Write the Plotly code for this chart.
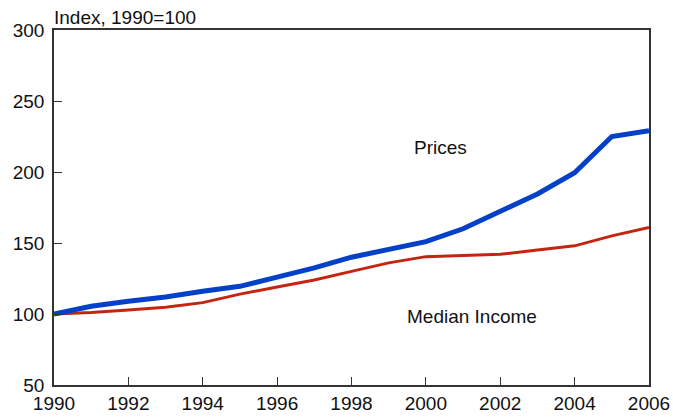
import plotly.graph_objects as go

years = list(range(1990, 2007))
prices = [100, 105.5, 109, 112, 116, 119.5, 126, 132.5, 140, 145.5, 151, 160, 172, 184.5, 199.5, 225, 229]
median_income = [100, 101, 102.8, 104.7, 108, 114, 119, 124, 130, 136, 140.4, 141, 142, 145, 148, 155, 161]
x_ticks = list(range(1990, 2007, 2))
y_ticks = [50, 100, 150, 200, 250, 300]

FONT = "Liberation Sans, Arial, sans-serif"
FS = 19

fig = go.Figure()
fig.add_trace(go.Scatter(x=years, y=median_income, mode="lines",
                         line=dict(color="#c42410", width=3), name="Median Income"))
fig.add_trace(go.Scatter(x=years, y=prices, mode="lines",
                         line=dict(color="#0440c8", width=5), name="Prices"))

fig.add_annotation(x=2000.4, y=217, text="Prices", showarrow=False,
                   font=dict(family=FONT, size=FS, color="#111"))
fig.add_annotation(x=2001.25, y=98.5, text="Median Income", showarrow=False,
                   font=dict(family=FONT, size=FS, color="#111"))
fig.add_annotation(x=0, xref="paper", xanchor="left", xshift=-2, y=1.0, yref="paper",
                   yanchor="bottom", yshift=0, text="Index, 1990=100", showarrow=False,
                   font=dict(family=FONT, size=FS, color="#111"))

fig.update_layout(
    width=673, height=417,
    margin=dict(l=54, r=24, t=30, b=32, autoexpand=False),
    plot_bgcolor="white", paper_bgcolor="white",
    showlegend=False,
    font=dict(family=FONT, size=FS, color="#111"),
)
fig.update_xaxes(range=[1990, 2006], tickvals=x_ticks, ticks="inside", ticklen=8,
                 tickcolor="#333", showline=True, linecolor="#333", linewidth=1.5,
                 mirror=True, showgrid=False, zeroline=False, automargin=False,
                 tickfont=dict(size=FS))
fig.update_yaxes(range=[50, 300], tickvals=y_ticks, ticks="inside", ticklen=8,
                 tickcolor="#333", showline=True, linecolor="#333", linewidth=1.5,
                 mirror=True, showgrid=False, zeroline=False, automargin=False,
                 ticklabelstandoff=4, tickfont=dict(size=FS))

fig.write_html("out.html", config={"displayModeBar": False},
               post_script="document.body.style.margin='0';document.body.style.overflow='hidden';")
